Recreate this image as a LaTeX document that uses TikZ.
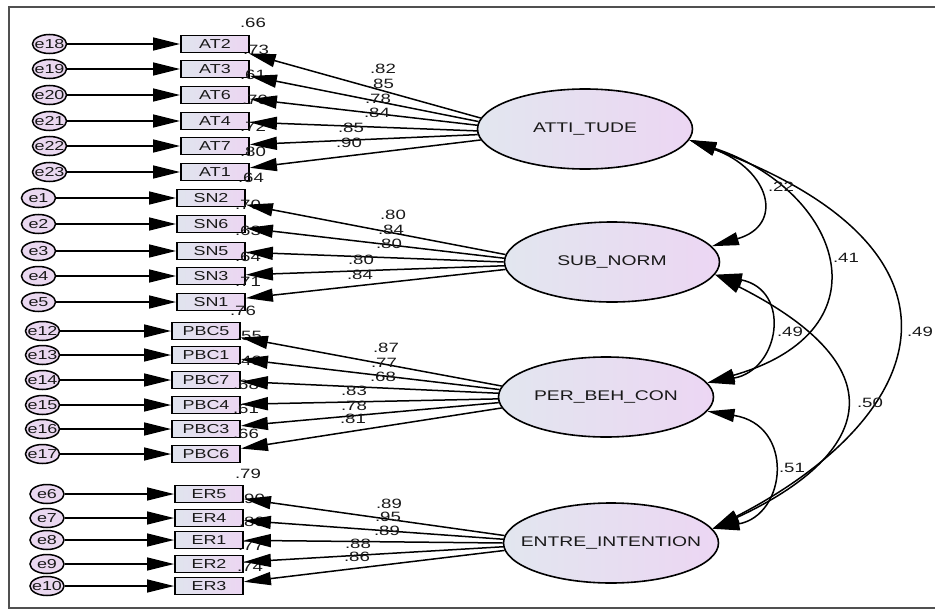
\documentclass[tikz,border=0pt]{standalone}
\usepackage{fontspec}
\newfontfamily\amos{Liberation Sans}[FakeStretch=1.38]
\usetikzlibrary{arrows.meta,shapes.geometric}
\definecolor{txt}{RGB}{25,25,25}
\definecolor{boxL}{RGB}{224,228,238}
\definecolor{boxR}{RGB}{236,214,242}
\definecolor{latL}{RGB}{226,230,239}
\definecolor{latR}{RGB}{236,214,243}
\definecolor{errF}{RGB}{234,216,240}
\definecolor{frameC}{RGB}{80,80,80}
\tikzset{
 obs/.style={rectangle, draw=black, line width=1.8pt, minimum width=68pt, minimum height=17pt, inner sep=0pt, left color=boxL, right color=boxR, text=txt, font=\amos\fontsize{13}{14}\selectfont},
 err/.style={ellipse, draw=black, line width=1.5pt, fill=errF, minimum width=34pt, minimum height=19pt, inner sep=0pt, text=txt, font=\amos\fontsize{13}{14}\selectfont},
 lat/.style={ellipse, draw=black, line width=1.6pt, minimum width=215pt, minimum height=80pt, inner sep=0pt, left color=latL, right color=latR, text=txt, font=\amos\fontsize{14}{15}\selectfont},
 num/.style={text=txt, inner sep=0pt, font=\amos\fontsize{13.5}{14}\selectfont},
 arr/.style={line width=1.5pt, -{Triangle[length=27pt,width=13pt]}},
 cov/.style={line width=1.5pt, {Triangle[length=27pt,width=13pt]}-{Triangle[length=27pt,width=13pt]}},
}
\begin{document}
\begin{tikzpicture}[x=1pt,y=-1pt]
\useasboundingbox (0,0) rectangle (935,610);
\draw[frameC, line width=1.2pt] (940,7) -- (9,7) -- (9,608) -- (940,608);

% latent variables
\node[lat] (AT)  at (585,129) {\makebox[0pt]{ATTI\_TUDE}};
\node[lat] (SN)  at (612,262) {\makebox[0pt]{SUB\_NORM}};
\node[lat] (PBC) at (606,397) {\makebox[0pt]{PER\_BEH\_CON}};
\node[lat] (EI)  at (611,543) {\makebox[0pt]{ENTRE\_INTENTION}};

% observed + errors
\foreach \b/\e/\y [count=\i] in {AT2/e18/44, AT3/e19/69, AT6/e20/95, AT4/e21/121, AT7/e22/146, AT1/e23/172}{
  \node[obs] (\b) at (215,\y) {\b};
  \node[err] (\e) at (49.5,\y) {\makebox[0pt]{\e}};
}
\foreach \b/\e/\y [count=\i] in {SN2/e1/198, SN6/e2/224, SN5/e3/251, SN3/e4/276, SN1/e5/302}{
  \node[obs] (\b) at (211,\y) {\b};
  \node[err] (\e) at (38.5,\y) {\makebox[0pt]{\e}};
}
\foreach \b/\e/\y [count=\i] in {PBC5/e12/331, PBC1/e13/355, PBC7/e14/380, PBC4/e15/405, PBC3/e16/429, PBC6/e17/454}{
  \node[obs] (\b) at (206,\y) {\b};
  \node[err] (\e) at (42.5,\y) {\makebox[0pt]{\e}};
}
\foreach \b/\e/\y [count=\i] in {ER5/e6/494, ER4/e7/518, ER1/e8/540, ER2/e9/564, ER3/e10/586}{
  \node[obs] (\b) at (209,\y) {\b};
  \node[err] (\e) at (47,\y) {\makebox[0pt]{\e}};
}

% squared multiple correlations
\foreach \t/\x/\y [count=\i] in {.66/253/23, .73/256/50, .61/253/75, .70/255/100, .72/253/127, .80/253/152, .64/251/178,
  .70/248/205, .63/248/231, .64/248/257, .71/248/282, .76/243/311,
  .55/249/336, .40/249/361, .68/246/385, .61/246/409, .66/246/434,
  .79/248/474, .90/252/499, .80/252/522, .77/251/546, .74/250/567}{
  \node[num] (r\i) at (\x,\y) {\t};
}

% error arrows
\foreach \e/\b in {e18/AT2, e19/AT3, e20/AT6, e21/AT4, e22/AT7, e23/AT1,
  e1/SN2, e2/SN6, e3/SN5, e4/SN3, e5/SN1,
  e12/PBC5, e13/PBC1, e14/PBC7, e15/PBC4, e16/PBC3, e17/PBC6,
  e6/ER5, e7/ER4, e8/ER1, e9/ER2, e10/ER3}{
  \draw[arr] (\e) -- (\b);
}

% loadings
\foreach \b/\a in {AT2/174, AT3/176.4, AT6/178.8, AT4/181.2, AT7/183.6, AT1/186}{
  \draw[arr] (AT.\a) -- (\b);
}
\foreach \b/\a in {SN2/176, SN6/178, SN5/180, SN3/182, SN1/184}{
  \draw[arr] (SN.\a) -- (\b);
}
\foreach \b/\a in {PBC5/174, PBC1/176.4, PBC7/178.8, PBC4/181.2, PBC3/183.6, PBC6/186}{
  \draw[arr] (PBC.\a) -- (\b);
}
\foreach \b/\a in {ER5/176, ER4/178, ER1/180, ER2/182, ER3/184}{
  \draw[arr] (EI.\a) -- (\b);
}

% loading labels
\foreach \t/\x/\y [count=\i] in {.82/383/69, .85/381/84, .78/378/99, .84/377/113, .85/351/128, .90/349/143,
  .80/393/215, .84/391/230, .80/389/244, .80/361/260, .84/360/275,
  .87/386/348, .77/384/363, .68/383/377, .83/354/391, .78/354/406, .81/353/419,
  .89/389/504, .95/388/517, .89/387/531, .88/358/544, .86/357/557}{
  \node[num] (l\i) at (\x,\y) {\t};
}

% covariances
\draw[cov] (AT.-6) .. controls (770,170) and (785,225) .. (SN.9);
\draw[cov] (AT.-6) .. controls (840,190) and (892,330) .. (PBC.8);
\draw[cov] (AT.-6) .. controls (985,250) and (935,414) .. (EI.8);
\draw[cov] (SN.-7) .. controls (792,290) and (780,370) .. (PBC.8);
\draw[cov] (SN.-7) .. controls (915,376) and (855,463) .. (EI.8);
\draw[cov] (PBC.-8) .. controls (795,425) and (787,515) .. (EI.8);

\node[num] (c1) at (781,187) {.22};
\node[num] (c2) at (846,258) {.41};
\node[num] (c3) at (920,332) {.49};
\node[num] (c4) at (790,332) {.49};
\node[num] (c5) at (870,403) {.50};
\node[num] (c6) at (792,468) {.51};
\end{tikzpicture}
\end{document}
